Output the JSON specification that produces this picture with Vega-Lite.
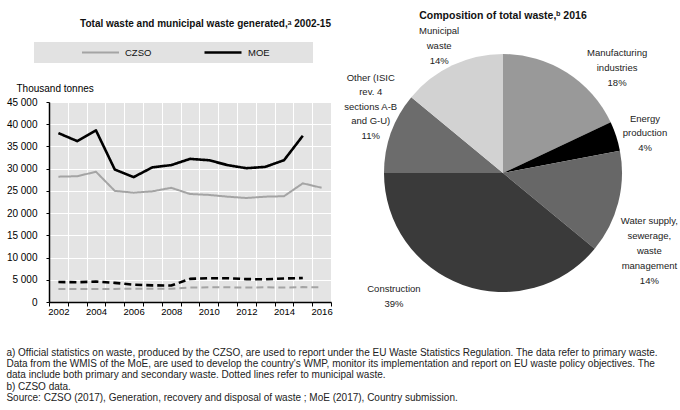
{
  "$schema": "https://vega.github.io/schema/vega-lite/v6.json",
  "background": "white",
  "padding": {"left": 6, "top": 11, "right": 0, "bottom": 0},
  "config": {
    "font": "Liberation Sans",
    "view": {"stroke": null},
    "concat": {"spacing": -23},
    "title": {"color": "#111"}
  },
  "resolve": {"scale": {"color": "independent", "strokeDash": "independent", "strokeWidth": "independent"}, "legend": {"color": "independent"}},
  "title": {
    "text": [
      "a) Official statistics on waste, produced by the CZSO, are used to report under the EU Waste Statistics Regulation. The data refer to primary waste.",
      "Data from the WMIS of the MoE, are used to develop the country's WMP, monitor its implementation and report on EU waste policy objectives. The",
      "data include both primary and secondary waste. Dotted lines refer to municipal waste.",
      "b) CZSO data.",
      "Source: CZSO (2017), Generation, recovery and disposal of waste ; MoE (2017), Country submission."
    ],
    "orient": "bottom",
    "anchor": "start",
    "fontSize": 10,
    "fontWeight": "normal",
    "lineHeight": 11.3,
    "offset": 20,
    "color": "#222"
  },
  "hconcat": [
    {
      "width": 282,
      "height": 200,
      "view": {"fill": "#e4e4e4", "stroke": null},
      "title": {
        "text": "Total waste and municipal waste generated,ᵃ 2002-15",
        "anchor": "end",
        "frame": "group",
        "fontSize": 10,
        "fontWeight": "bold",
        "offset": 13
      },
      "data": {
        "values": [
          {"year": 2002, "source": "MOE", "kind": "total", "value": 38000},
          {"year": 2003, "source": "MOE", "kind": "total", "value": 36200},
          {"year": 2004, "source": "MOE", "kind": "total", "value": 38600},
          {"year": 2005, "source": "MOE", "kind": "total", "value": 29800},
          {"year": 2006, "source": "MOE", "kind": "total", "value": 28100},
          {"year": 2007, "source": "MOE", "kind": "total", "value": 30300},
          {"year": 2008, "source": "MOE", "kind": "total", "value": 30800},
          {"year": 2009, "source": "MOE", "kind": "total", "value": 32200},
          {"year": 2010, "source": "MOE", "kind": "total", "value": 31900},
          {"year": 2011, "source": "MOE", "kind": "total", "value": 30800},
          {"year": 2012, "source": "MOE", "kind": "total", "value": 30100},
          {"year": 2013, "source": "MOE", "kind": "total", "value": 30400},
          {"year": 2014, "source": "MOE", "kind": "total", "value": 31900},
          {"year": 2015, "source": "MOE", "kind": "total", "value": 37400},
          {"year": 2002, "source": "CZSO", "kind": "total", "value": 28200},
          {"year": 2003, "source": "CZSO", "kind": "total", "value": 28300},
          {"year": 2004, "source": "CZSO", "kind": "total", "value": 29300},
          {"year": 2005, "source": "CZSO", "kind": "total", "value": 25000},
          {"year": 2006, "source": "CZSO", "kind": "total", "value": 24600},
          {"year": 2007, "source": "CZSO", "kind": "total", "value": 24900},
          {"year": 2008, "source": "CZSO", "kind": "total", "value": 25700},
          {"year": 2009, "source": "CZSO", "kind": "total", "value": 24300},
          {"year": 2010, "source": "CZSO", "kind": "total", "value": 24100},
          {"year": 2011, "source": "CZSO", "kind": "total", "value": 23700},
          {"year": 2012, "source": "CZSO", "kind": "total", "value": 23400},
          {"year": 2013, "source": "CZSO", "kind": "total", "value": 23700},
          {"year": 2014, "source": "CZSO", "kind": "total", "value": 23800},
          {"year": 2015, "source": "CZSO", "kind": "total", "value": 26700},
          {"year": 2016, "source": "CZSO", "kind": "total", "value": 25700},
          {"year": 2002, "source": "MOE", "kind": "municipal", "value": 4500},
          {"year": 2003, "source": "MOE", "kind": "municipal", "value": 4450},
          {"year": 2004, "source": "MOE", "kind": "municipal", "value": 4600},
          {"year": 2005, "source": "MOE", "kind": "municipal", "value": 4300},
          {"year": 2006, "source": "MOE", "kind": "municipal", "value": 3900},
          {"year": 2007, "source": "MOE", "kind": "municipal", "value": 3750},
          {"year": 2008, "source": "MOE", "kind": "municipal", "value": 3700},
          {"year": 2009, "source": "MOE", "kind": "municipal", "value": 5200},
          {"year": 2010, "source": "MOE", "kind": "municipal", "value": 5350},
          {"year": 2011, "source": "MOE", "kind": "municipal", "value": 5350},
          {"year": 2012, "source": "MOE", "kind": "municipal", "value": 5150},
          {"year": 2013, "source": "MOE", "kind": "municipal", "value": 5100},
          {"year": 2014, "source": "MOE", "kind": "municipal", "value": 5300},
          {"year": 2015, "source": "MOE", "kind": "municipal", "value": 5400},
          {"year": 2002, "source": "CZSO", "kind": "municipal", "value": 2900},
          {"year": 2003, "source": "CZSO", "kind": "municipal", "value": 2900},
          {"year": 2004, "source": "CZSO", "kind": "municipal", "value": 2950},
          {"year": 2005, "source": "CZSO", "kind": "municipal", "value": 2950},
          {"year": 2006, "source": "CZSO", "kind": "municipal", "value": 3000},
          {"year": 2007, "source": "CZSO", "kind": "municipal", "value": 3000},
          {"year": 2008, "source": "CZSO", "kind": "municipal", "value": 3000},
          {"year": 2009, "source": "CZSO", "kind": "municipal", "value": 3250},
          {"year": 2010, "source": "CZSO", "kind": "municipal", "value": 3300},
          {"year": 2011, "source": "CZSO", "kind": "municipal", "value": 3300},
          {"year": 2012, "source": "CZSO", "kind": "municipal", "value": 3250},
          {"year": 2013, "source": "CZSO", "kind": "municipal", "value": 3300},
          {"year": 2014, "source": "CZSO", "kind": "municipal", "value": 3250},
          {"year": 2015, "source": "CZSO", "kind": "municipal", "value": 3350},
          {"year": 2016, "source": "CZSO", "kind": "municipal", "value": 3300}
        ]
      },
      "mark": {"type": "line", "strokeJoin": "round"},
      "encoding": {
        "x": {
          "field": "year",
          "type": "ordinal",
          "scale": {"type": "band", "paddingInner": 0, "paddingOuter": 0, "domain": [2002, 2003, 2004, 2005, 2006, 2007, 2008, 2009, 2010, 2011, 2012, 2013, 2014, 2015, 2016]},
          "axis": {
            "title": null,
            "tickBand": "extent",
            "labelExpr": "datum.value % 2 == 0 ? datum.label : ''",
            "labelAngle": 0,
            "labelOverlap": false,
            "domainColor": "#000",
            "domainWidth": 1.5,
            "tickColor": "#000",
            "tickSize": 4,
            "grid": true,
            "gridColor": "#ffffff",
            "gridWidth": 1,
            "labelFontSize": 9.5,
            "labelColor": "#000",
            "labelPadding": 0
          }
        },
        "y": {
          "field": "value",
          "type": "quantitative",
          "scale": {"domain": [0, 45000]},
          "axis": {
            "title": "Thousand tonnes",
            "titleAngle": 0,
            "titleAlign": "left",
            "titleBaseline": "bottom",
            "titleX": -33,
            "titleY": -9,
            "titleFontWeight": "normal",
            "titleFontSize": 10,
            "titleColor": "#000",
            "values": [0, 5000, 10000, 15000, 20000, 25000, 30000, 35000, 40000, 45000],
            "labelExpr": "replace(format(datum.value, ','), ',', ' ')",
            "grid": true,
            "gridColor": "#ffffff",
            "gridWidth": 1,
            "domainColor": "#000",
            "domainWidth": 1.5,
            "tickColor": "#000",
            "tickSize": 3,
            "labelPadding": 9,
            "labelFontSize": 10,
            "labelColor": "#000"
          }
        },
        "color": {
          "field": "source",
          "type": "nominal",
          "scale": {"domain": ["CZSO", "MOE"], "range": ["#a4a4a4", "#000000"]},
          "legend": {
            "orient": "none",
            "legendX": -15,
            "legendY": -60,
            "direction": "horizontal",
            "title": "\u00a0",
            "titleOrient": "left",
            "titleFontSize": 9,
            "titlePadding": 42,
            "fillColor": "#e2e2e2",
            "padding": 5,
            "clipHeight": 11,
            "symbolType": "stroke",
            "symbolSize": 1369,
            "symbolStrokeWidth": 2,
            "labelFontSize": 9.5,
            "labelColor": "#111",
            "labelOffset": 5,
            "columnPadding": 51,
            "labelExpr": "datum.label == 'MOE' ? 'MOE\u2003\u2003\u2003\u2003\u200b' : datum.label"
          }
        },
        "strokeDash": {
          "field": "kind",
          "type": "nominal",
          "scale": {"domain": ["total", "municipal"], "range": [[1, 0], [7, 4]]},
          "legend": null
        },
        "strokeWidth": {
          "field": "source",
          "type": "nominal",
          "scale": {"domain": ["CZSO", "MOE"], "range": [2, 2.6]},
          "legend": null
        }
      }
    },
    {
      "width": 240,
      "height": 142,
      "title": {
        "text": "Composition of total waste,ᵇ 2016",
        "anchor": "middle",
        "frame": "group",
        "fontSize": 10.5,
        "fontWeight": "bold",
        "offset": 4
      },
      "data": {
        "values": [
          {"cat": "Manufacturing industries", "label": "Manufacturing\nindustries\n18%", "value": 18, "order": 1},
          {"cat": "Energy production", "label": "Energy\nproduction\n4%", "value": 4, "order": 2},
          {"cat": "Water supply, sewerage, waste management", "label": "Water supply,\nsewerage,\nwaste\nmanagement\n14%", "value": 14, "order": 3},
          {"cat": "Construction", "label": "Construction\n39%", "value": 39, "order": 4},
          {"cat": "Other", "label": "Other (ISIC\nrev. 4\nsections A-B\nand G-U)\n11%", "value": 11, "order": 5},
          {"cat": "Municipal waste", "label": "Municipal\nwaste\n14%", "value": 14, "order": 6}
        ]
      },
      "encoding": {
        "theta": {"field": "value", "type": "quantitative", "stack": true},
        "order": {"field": "order", "type": "quantitative"},
        "detail": {"field": "cat", "type": "nominal"}
      },
      "layer": [
        {
          "mark": {"type": "arc", "outerRadius": 119},
          "encoding": {
            "color": {
              "field": "cat",
              "type": "nominal",
              "scale": {
                "domain": ["Manufacturing industries", "Energy production", "Water supply, sewerage, waste management", "Construction", "Other", "Municipal waste"],
                "range": ["#999999", "#000000", "#676767", "#3a3a3a", "#6c6c6c", "#d2d2d2"]
              },
              "legend": null
            }
          }
        },
        {
          "mark": {"type": "text", "radius": 157, "dx": 3, "lineBreak": "\n", "fontSize": 9.5, "color": "#222", "lineHeight": 15},
          "encoding": {"text": {"condition": {"test": "datum.cat == 'Municipal waste'", "field": "label"}, "value": ""}}
        },
        {
          "mark": {"type": "text", "radius": 142, "dx": 38, "lineBreak": "\n", "fontSize": 9.5, "color": "#222", "lineHeight": 15},
          "encoding": {"text": {"condition": {"test": "datum.cat == 'Manufacturing industries'", "field": "label"}, "value": ""}}
        },
        {
          "mark": {"type": "text", "radius": 143, "dx": 6, "dy": -10, "lineBreak": "\n", "fontSize": 9.5, "color": "#222", "lineHeight": 14.5},
          "encoding": {"text": {"condition": {"test": "datum.cat == 'Energy production'", "field": "label"}, "value": ""}}
        },
        {
          "mark": {"type": "text", "radius": 148, "dx": 3, "dy": 11, "lineBreak": "\n", "fontSize": 9.5, "color": "#222", "lineHeight": 15},
          "encoding": {"text": {"condition": {"test": "datum.cat == 'Water supply, sewerage, waste management'", "field": "label"}, "value": ""}}
        },
        {
          "mark": {"type": "text", "radius": 139, "dx": -62, "dy": -10, "baseline": "bottom", "lineBreak": "\n", "fontSize": 9.5, "color": "#222", "lineHeight": 15},
          "encoding": {"text": {"condition": {"test": "datum.cat == 'Construction'", "field": "label"}, "value": ""}}
        },
        {
          "mark": {"type": "text", "radius": 80, "dx": -57, "dy": -63, "baseline": "bottom", "lineBreak": "\n", "fontSize": 9.5, "color": "#222", "lineHeight": 14.5},
          "encoding": {"text": {"condition": {"test": "datum.cat == 'Other'", "field": "label"}, "value": ""}}
        }
      ]
    }
  ]
}
